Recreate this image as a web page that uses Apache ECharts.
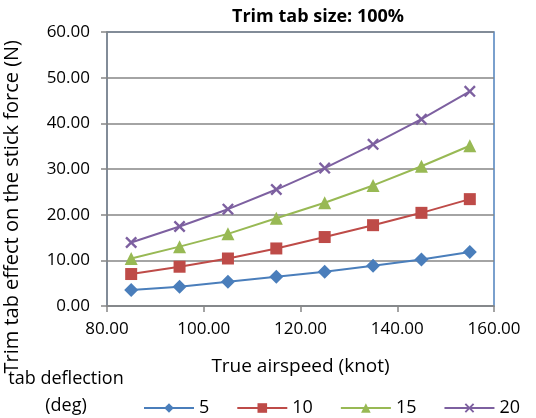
<!DOCTYPE html>
<html>
<head>
<meta charset="utf-8">
<script src="https://cdn.jsdelivr.net/npm/echarts@6/dist/echarts.min.js"></script>
<style>
html,body{margin:0;padding:0;background:#fff;}
#chart{width:536px;height:418px;}
</style>
</head>
<body>
<div id="chart"></div>
<script>
// True airspeed (knot)
const airspeed = [85, 95, 105, 115, 125, 135, 145, 155];
// Stick force effect (N) per tab deflection (deg)
const defl5  = [3.5, 4.2, 5.3, 6.4, 7.5, 8.8, 10.2, 11.8];
const defl10 = [7.0, 8.6, 10.4, 12.6, 15.1, 17.7, 20.4, 23.4];
const defl15 = [10.4, 13.0, 15.8, 19.2, 22.6, 26.4, 30.6, 35.1];
const defl20 = [13.9, 17.4, 21.2, 25.5, 30.2, 35.4, 40.9, 47.0];
const seriesNames = ['5', '10', '15', '20'];
const colors = ['#4a7ebb', '#be4b48', '#98b954', '#7d60a0'];

const font = '"Open Sans", "Liberation Sans", sans-serif';
const crossPath = 'path://M0,1.4 L1.4,0 L5,3.6 L8.6,0 L10,1.4 L6.4,5 L10,8.6 L8.6,10 L5,6.4 L1.4,10 L0,8.6 L3.6,5 Z';

function pts(vals) { return airspeed.map((x, i) => [x, vals[i]]); }

const markerDefs = [
  { symbol: 'diamond', size: 14 },
  { symbol: 'rect', size: 12 },
  { symbol: 'triangle', size: 13 },
  { symbol: crossPath, size: 12 }
];
const dataSets = [defl5, defl10, defl15, defl20];

const chart = echarts.init(document.getElementById('chart'));
chart.setOption({
  animation: false,
  textStyle: { fontFamily: font },
  title: {
    text: 'Trim tab size: 100%',
    left: 318, top: 8, textAlign: 'center', padding: 0,
    textStyle: { fontSize: 18, fontWeight: 'bold', color: '#000', fontFamily: font }
  },
  grid: { left: 107, right: 42, top: 32, bottom: 112, show: true, borderColor: '#4f81bd', borderWidth: 1.5 },
  xAxis: {
    type: 'value', min: 80, max: 160, interval: 20,
    name: 'True airspeed (knot)', nameLocation: 'middle', nameGap: 51,
    nameTextStyle: { fontSize: 19, color: '#000', fontFamily: font },
    axisLine: { show: true, onZero: false, lineStyle: { color: '#868686', width: 1.5 } },
    axisTick: { show: true, length: 6, lineStyle: { color: '#868686', width: 1.5 } },
    axisLabel: { fontSize: 17, color: '#000', margin: 15, formatter: v => v.toFixed(2), fontFamily: font },
    splitLine: { show: false }
  },
  yAxis: {
    type: 'value', min: 0, max: 60, interval: 10,
    axisLine: { show: true, lineStyle: { color: '#868686', width: 1.5 } },
    axisTick: { show: true, length: 6, lineStyle: { color: '#868686', width: 1.5 } },
    axisLabel: { fontSize: 17, color: '#000', margin: 17, formatter: v => v.toFixed(2), fontFamily: font },
    splitLine: { show: true, lineStyle: { color: '#868686', width: 1.5 } }
  },
  legend: {
    left: 143, top: 399, width: 393, padding: 0, itemWidth: 50, itemHeight: 12, itemGap: 27,
    textStyle: { fontSize: 18, color: '#000', fontFamily: font, padding: [0, 0, 0, 0] },
    data: seriesNames
  },
  graphic: [
    {
      type: 'text', left: 2, top: 40, rotation: Math.PI / 2,
      style: { text: 'Trim tab effect on the stick force (N)', fill: '#000', font: '20px ' + font }
    },
    {
      type: 'text', x: 66, y: 379,
      style: { text: 'tab deflection', fill: '#000', align: 'center', verticalAlign: 'middle', font: '18px ' + font }
    },
    {
      type: 'text', x: 66, y: 406,
      style: { text: '(deg)', fill: '#000', align: 'center', verticalAlign: 'middle', font: '18px ' + font }
    }
  ],
  series: dataSets.map((d, i) => ({
    name: seriesNames[i],
    type: 'line',
    data: pts(d),
    symbol: markerDefs[i].symbol,
    symbolSize: markerDefs[i].size,
    lineStyle: { color: colors[i], width: 2 },
    itemStyle: { color: colors[i] },
    z: 2 + i
  }))
});
</script>
</body>
</html>
